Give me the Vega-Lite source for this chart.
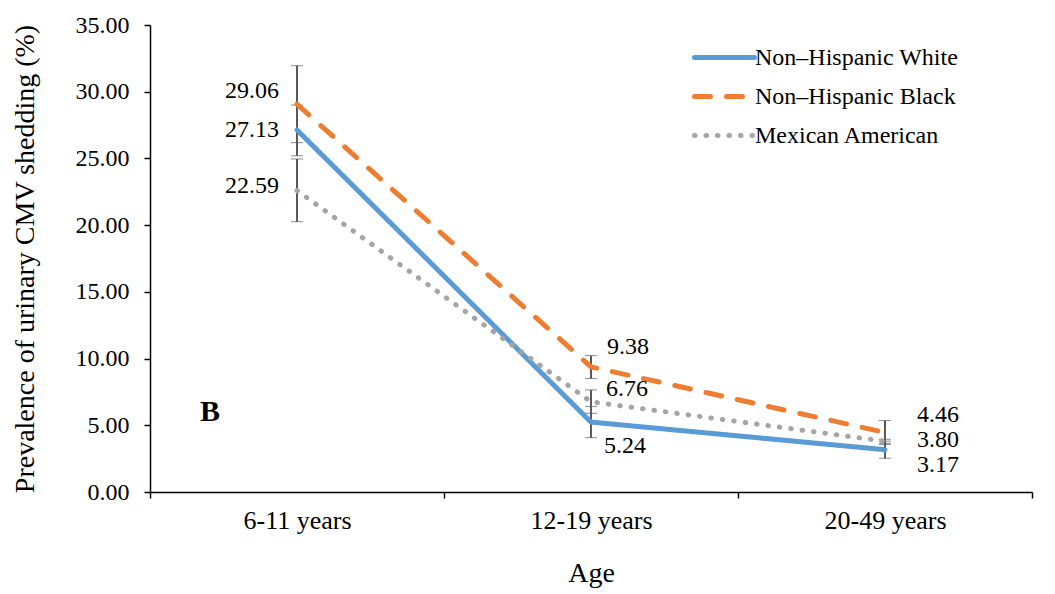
{
  "$schema": "https://vega.github.io/schema/vega-lite/v6.json",
  "width": 882,
  "height": 467,
  "autosize": "none",
  "padding": {"left": 150, "top": 25, "right": 23, "bottom": 102},
  "background": "white",
  "config": {
    "view": {"stroke": null},
    "font": "Liberation Serif",
    "axis": {"labelFont": "Liberation Serif", "titleFont": "Liberation Serif", "labelColor": "#000", "titleColor": "#000", "domainColor": "#000", "tickColor": "#000", "labelFontSize": 24, "titleFontSize": 28, "titleFontWeight": "normal", "grid": false, "domainWidth": 1.5, "tickWidth": 1.5}
  },
  "data": {"values": [
    {"group": "Non\u2013Hispanic White", "age": "6-11 years", "value": 27.13, "lo": 25.2, "hi": 29.0},
    {"group": "Non\u2013Hispanic White", "age": "12-19 years", "value": 5.24, "lo": 4.07, "hi": 6.4},
    {"group": "Non\u2013Hispanic White", "age": "20-49 years", "value": 3.17, "lo": 2.53, "hi": 3.81},
    {"group": "Non\u2013Hispanic Black", "age": "6-11 years", "value": 29.06, "lo": 26.18, "hi": 31.95},
    {"group": "Non\u2013Hispanic Black", "age": "12-19 years", "value": 9.38, "lo": 8.5, "hi": 10.22},
    {"group": "Non\u2013Hispanic Black", "age": "20-49 years", "value": 4.46, "lo": 3.57, "hi": 5.35},
    {"group": "Mexican American", "age": "6-11 years", "value": 22.59, "lo": 20.26, "hi": 24.96},
    {"group": "Mexican American", "age": "12-19 years", "value": 6.76, "lo": 5.9, "hi": 7.65},
    {"group": "Mexican American", "age": "20-49 years", "value": 3.80, "lo": 3.65, "hi": 3.95}
  ]},
  "encoding": {
    "x": {"field": "age", "type": "nominal", "sort": ["6-11 years", "12-19 years", "20-49 years"],
      "scale": {"paddingInner": 0, "paddingOuter": 0},
      "axis": {"title": "Age", "labelAngle": 0, "labelFontSize": 26, "tickBand": "extent", "tickSize": 6, "labelPadding": 9, "titlePadding": 26}},
    "y": {"field": "value", "type": "quantitative", "scale": {"domain": [0, 35]},
      "axis": {"title": "Prevalence of urinary CMV shedding (%)", "values": [0,5,10,15,20,25,30,35], "format": ".2f", "tickSize": 6, "labelPadding": 15, "titlePadding": 36}}
  },
  "layer": [
    {
      "mark": {"type": "errorbar", "color": "#595959", "rule": {"strokeWidth": 2}, "ticks": {"size": 12, "strokeWidth": 2, "color": "#595959"}},
      "encoding": {"y": {"field": "lo", "type": "quantitative"}, "y2": {"field": "hi"}}
    },
    {
      "mark": {"type": "line", "strokeWidth": 5, "strokeCap": "round"},
      "encoding": {
        "color": {"field": "group", "type": "nominal",
          "scale": {"domain": ["Non\u2013Hispanic White", "Non\u2013Hispanic Black", "Mexican American"], "range": ["#5B9BD5", "#ED7D31", "#A5A5A5"]},
          "legend": {"title": null, "orient": "none", "legendX": 562, "legendY": 20, "labelFont": "Liberation Serif", "labelFontSize": 24, "labelColor": "#000", "labelLimit": 0, "symbolType": "M-3,0H3", "symbolSize": 400, "symbolStrokeWidth": 5, "rowPadding": 14, "labelOffset": 18,
            "encode": {"symbols": {"update": {"strokeCap": {"value": "round"}, "fill": {"value": "transparent"}}}}}},
        "strokeDash": {"field": "group", "type": "nominal",
          "scale": {"domain": ["Non\u2013Hispanic White", "Non\u2013Hispanic Black", "Mexican American"], "range": [[1, 0], [16, 16], [0.5, 11]]},
          "legend": null},
        "detail": {"field": "group"}
      }
    },
    {
      "mark": {"type": "text", "text": "B", "fontSize": 30, "fontWeight": "bold", "font": "Liberation Serif", "dx": -87, "color": "#000"},
      "data": {"values": [{"age": "6-11 years", "value": 6.0}]}
    },
    {"transform": [{"filter": "datum.age == '6-11 years' && datum.group == 'Non\u2013Hispanic Black'"}],
     "mark": {"type": "text", "align": "right", "dx": -18, "dy": -13, "fontSize": 24, "font": "Liberation Serif", "color": "#000"},
     "encoding": {"text": {"field": "value", "format": ".2f"}}},
    {"transform": [{"filter": "datum.age == '6-11 years' && datum.group == 'Non\u2013Hispanic White'"}],
     "mark": {"type": "text", "align": "right", "dx": -18, "dy": 0, "fontSize": 24, "font": "Liberation Serif", "color": "#000"},
     "encoding": {"text": {"field": "value", "format": ".2f"}}},
    {"transform": [{"filter": "datum.age == '6-11 years' && datum.group == 'Mexican American'"}],
     "mark": {"type": "text", "align": "right", "dx": -18, "dy": -5, "fontSize": 24, "font": "Liberation Serif", "color": "#000"},
     "encoding": {"text": {"field": "value", "format": ".2f"}}},
    {"transform": [{"filter": "datum.age == '12-19 years' && datum.group == 'Non\u2013Hispanic Black'"}],
     "mark": {"type": "text", "align": "left", "dx": 16, "dy": -20, "fontSize": 24, "font": "Liberation Serif", "color": "#000"},
     "encoding": {"text": {"field": "value", "format": ".2f"}}},
    {"transform": [{"filter": "datum.age == '12-19 years' && datum.group == 'Mexican American'"}],
     "mark": {"type": "text", "align": "left", "dx": 15, "dy": -13, "fontSize": 24, "font": "Liberation Serif", "color": "#000"},
     "encoding": {"text": {"field": "value", "format": ".2f"}}},
    {"transform": [{"filter": "datum.age == '12-19 years' && datum.group == 'Non\u2013Hispanic White'"}],
     "mark": {"type": "text", "align": "left", "dx": 13, "dy": 24, "fontSize": 24, "font": "Liberation Serif", "color": "#000"},
     "encoding": {"text": {"field": "value", "format": ".2f"}}},
    {"transform": [{"filter": "datum.age == '20-49 years' && datum.group == 'Non\u2013Hispanic Black'"}],
     "mark": {"type": "text", "align": "left", "dx": 32, "dy": -17, "fontSize": 24, "font": "Liberation Serif", "color": "#000"},
     "encoding": {"text": {"field": "value", "format": ".2f"}}},
    {"transform": [{"filter": "datum.age == '20-49 years' && datum.group == 'Mexican American'"}],
     "mark": {"type": "text", "align": "left", "dx": 32, "dy": -1, "fontSize": 24, "font": "Liberation Serif", "color": "#000"},
     "encoding": {"text": {"field": "value", "format": ".2f"}}},
    {"transform": [{"filter": "datum.age == '20-49 years' && datum.group == 'Non\u2013Hispanic White'"}],
     "mark": {"type": "text", "align": "left", "dx": 32, "dy": 15, "fontSize": 24, "font": "Liberation Serif", "color": "#000"},
     "encoding": {"text": {"field": "value", "format": ".2f"}}}
  ]
}
